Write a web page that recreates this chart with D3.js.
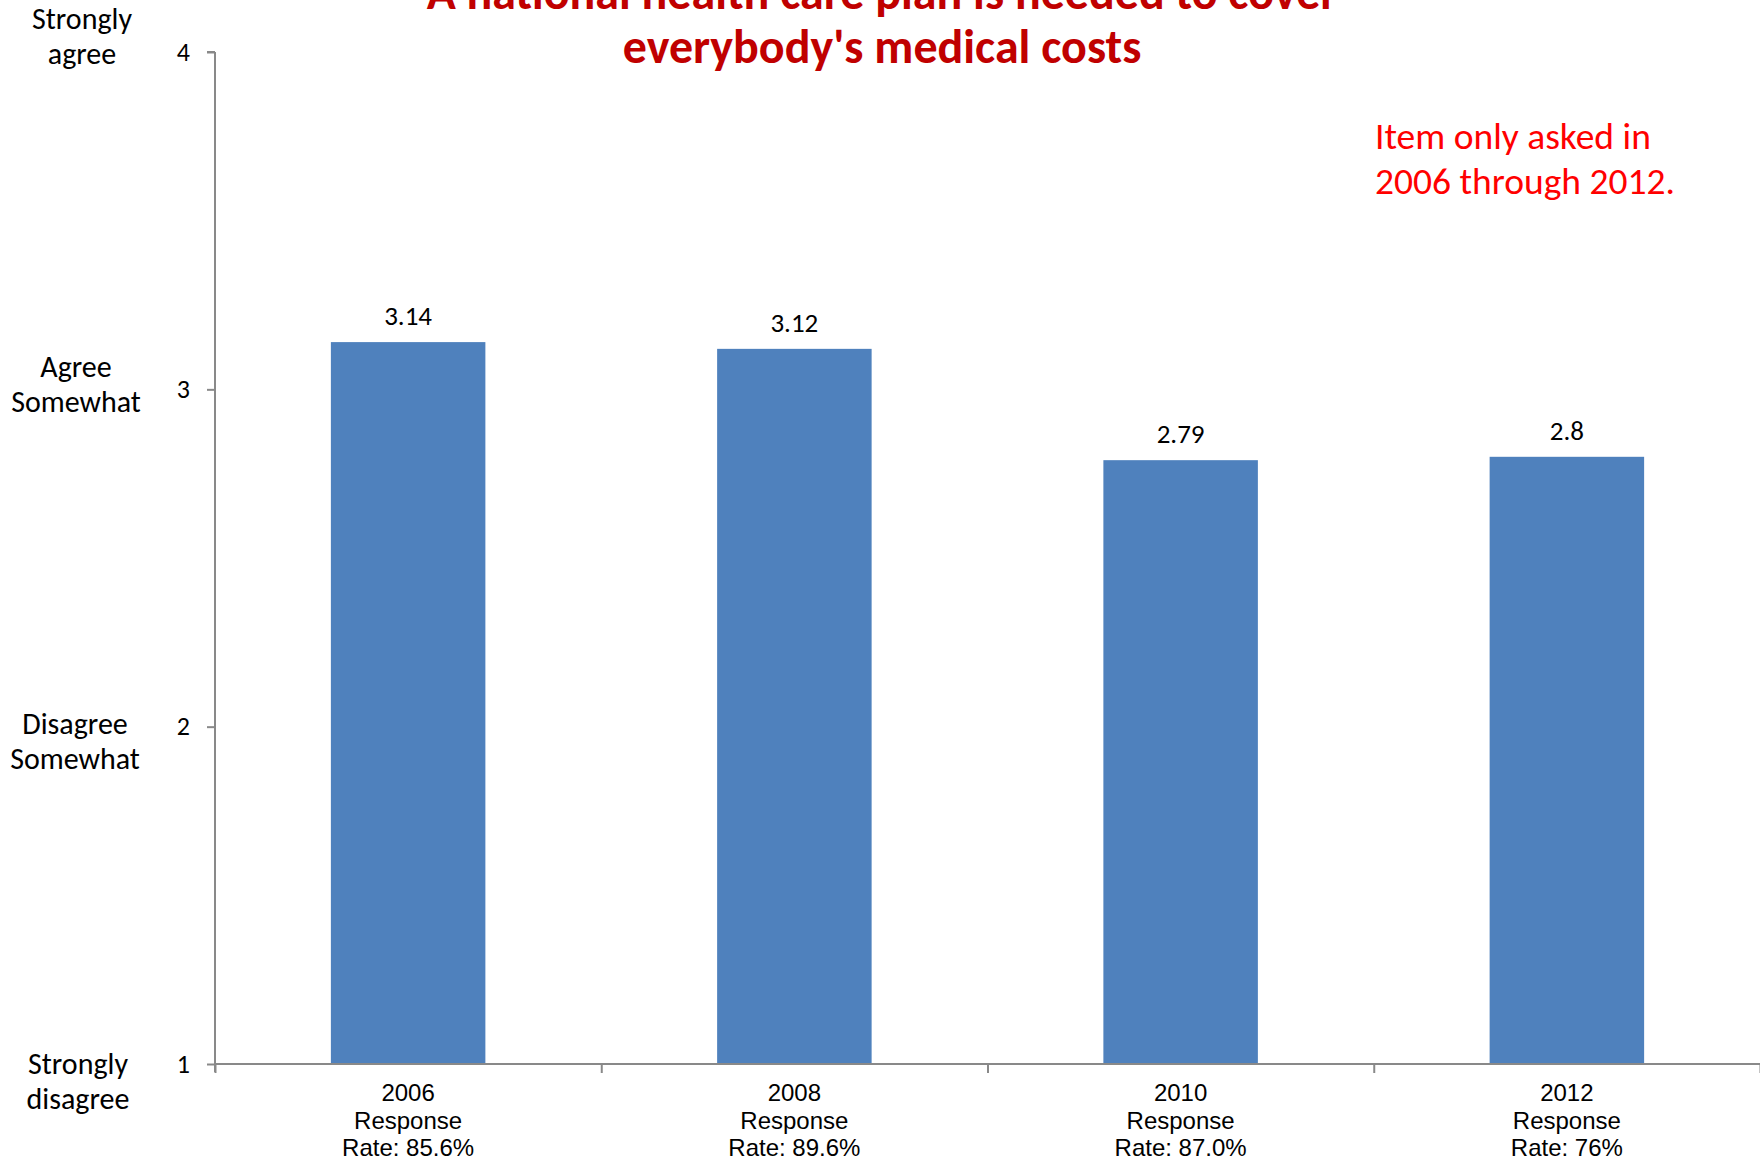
<!DOCTYPE html>
<html>
<head>
<meta charset="utf-8">
<script src="https://cdn.jsdelivr.net/npm/d3@7"></script>
<style>
    html, body { margin: 0; padding: 0; background: #fff; }
    svg { display: block; }
</style>
</head>
<body>
<div class="chart"></div>
<script>
// survey years and mean scores (1 = strongly disagree ... 4 = strongly agree)
const years = ["2006", "2008", "2010", "2012"];
const scores = [3.14, 3.12, 2.79, 2.8];
const responseRates = ["85.6%", "89.6%", "87.0%", "76%"];
const yTicks = [1, 2, 3, 4];
const scaleLabels = [
    ["Strongly", "agree"],
    ["Agree", "Somewhat"],
    ["Disagree", "Somewhat"],
    ["Strongly", "disagree"]
];
const scaleLabelValues = [4, 3, 2, 1];
const titleLines = ["A national health care plan is needed to cover", "everybody's medical costs"];
const noteLines = ["Item only asked in", "2006 through 2012."];

// layout of the free-standing text boxes (first baseline offset from tick, centre x)
const labelOffsets = [-23, -12, 7, 10];
const labelCenters = [82, 76, 75, 78];

const calibri = "Calibri, Carlito, Lato, sans-serif";
const arial = "Arial, 'Liberation Sans', sans-serif";

let width = 1760, height = 1162;
let svg = d3.select(".chart").append("svg")
    .attr("width", width).attr("height", height);

let plot = {left: 215, right: 1760, top: 52, bottom: 1064};

let x = d3.scaleBand()
    .domain(years)
    .range([plot.left, plot.right])
    .paddingInner(0.6)
    .paddingOuter(0.3);

// boundaries between categories for the tick marks
let xEdges = d3.scaleLinear().domain([0, years.length]).range([plot.left, plot.right]);

let y = d3.scaleLinear().domain([1, 4]).range([plot.bottom, plot.top]);

// bars
svg.append("g")
    .selectAll("rect")
    .data(scores)
    .enter().append("rect")
    .attr("x", (d, i) => x(years[i]))
    .attr("y", d => y(d))
    .attr("width", x.bandwidth())
    .attr("height", d => y(1) - y(d))
    .attr("fill", "#4f81bd");

// value labels
svg.append("g")
    .selectAll("text")
    .data(scores)
    .enter().append("text")
    .attr("x", (d, i) => x(years[i]) + x.bandwidth() / 2)
    .attr("y", d => y(d) - 17)
    .attr("text-anchor", "middle")
    .attr("font-family", calibri)
    .attr("font-size", "27px")
    .attr("fill", "#000")
    .text(d => d);

// y axis
let yAxis = svg.append("g")
    .attr("transform", "translate(" + plot.left + ",0)")
    .call(d3.axisLeft(y).tickValues(yTicks).tickSize(8).tickPadding(17).tickFormat(d3.format("d")));
yAxis.select(".domain").attr("stroke", "#898989").attr("stroke-width", 2)
    .attr("d", "M0," + plot.top + "H-8M0," + plot.top + "V" + (plot.bottom + 8));
yAxis.selectAll(".tick line").attr("stroke", "#898989").attr("stroke-width", 2);
yAxis.selectAll(".tick text")
    .attr("font-family", calibri).attr("font-size", "26px").attr("fill", "#000");

// x axis
let xAxis = svg.append("g")
    .attr("transform", "translate(0," + plot.bottom + ")")
    .call(d3.axisBottom(xEdges).tickValues(d3.range(years.length + 1)).tickSize(9).tickFormat(""));
xAxis.select(".domain").attr("stroke", "#898989").attr("stroke-width", 2)
    .attr("d", "M" + plot.left + ",0H" + plot.right);
xAxis.selectAll(".tick line").attr("stroke", "#898989").attr("stroke-width", 2);

// category labels
let catLabels = svg.append("g")
    .selectAll("text")
    .data(years)
    .enter().append("text")
    .attr("x", d => x(d) + x.bandwidth() / 2)
    .attr("y", 1101)
    .attr("text-anchor", "middle")
    .attr("font-family", arial)
    .attr("font-size", "24px")
    .attr("fill", "#000");
catLabels.each(function (d, i) {
    let t = d3.select(this);
    let cx = x(d) + x.bandwidth() / 2;
    [d, "Response", "Rate: " + responseRates[i]].forEach(function (line, k) {
        t.append("tspan").attr("x", cx).attr("dy", k === 0 ? 0 : 27.5).text(line);
    });
});

// agreement labels on the left
scaleLabels.forEach(function (lines, i) {
    let t = svg.append("text")
        .attr("text-anchor", "middle")
        .attr("font-family", calibri)
        .attr("font-size", "30px")
        .attr("fill", "#000")
        .attr("y", y(scaleLabelValues[i]) + labelOffsets[i]);
    lines.forEach(function (line, k) {
        t.append("tspan").attr("x", labelCenters[i]).attr("dy", k === 0 ? 0 : 35).text(line);
    });
});

// title
let title = svg.append("text")
    .attr("text-anchor", "middle")
    .attr("font-family", calibri)
    .attr("font-weight", "bold")
    .attr("font-size", "48px")
    .attr("fill", "#c00000")
    .attr("y", 9);
titleLines.forEach(function (line, k) {
    title.append("tspan").attr("x", 882).attr("dy", k === 0 ? 0 : 54).text(line);
});

// note
let note = svg.append("text")
    .attr("font-family", calibri)
    .attr("font-size", "37.5px")
    .attr("fill", "#ff0000")
    .attr("y", 149);
noteLines.forEach(function (line, k) {
    note.append("tspan").attr("x", 1375).attr("dy", k === 0 ? 0 : 45).text(line);
});
</script>
</body>
</html>
